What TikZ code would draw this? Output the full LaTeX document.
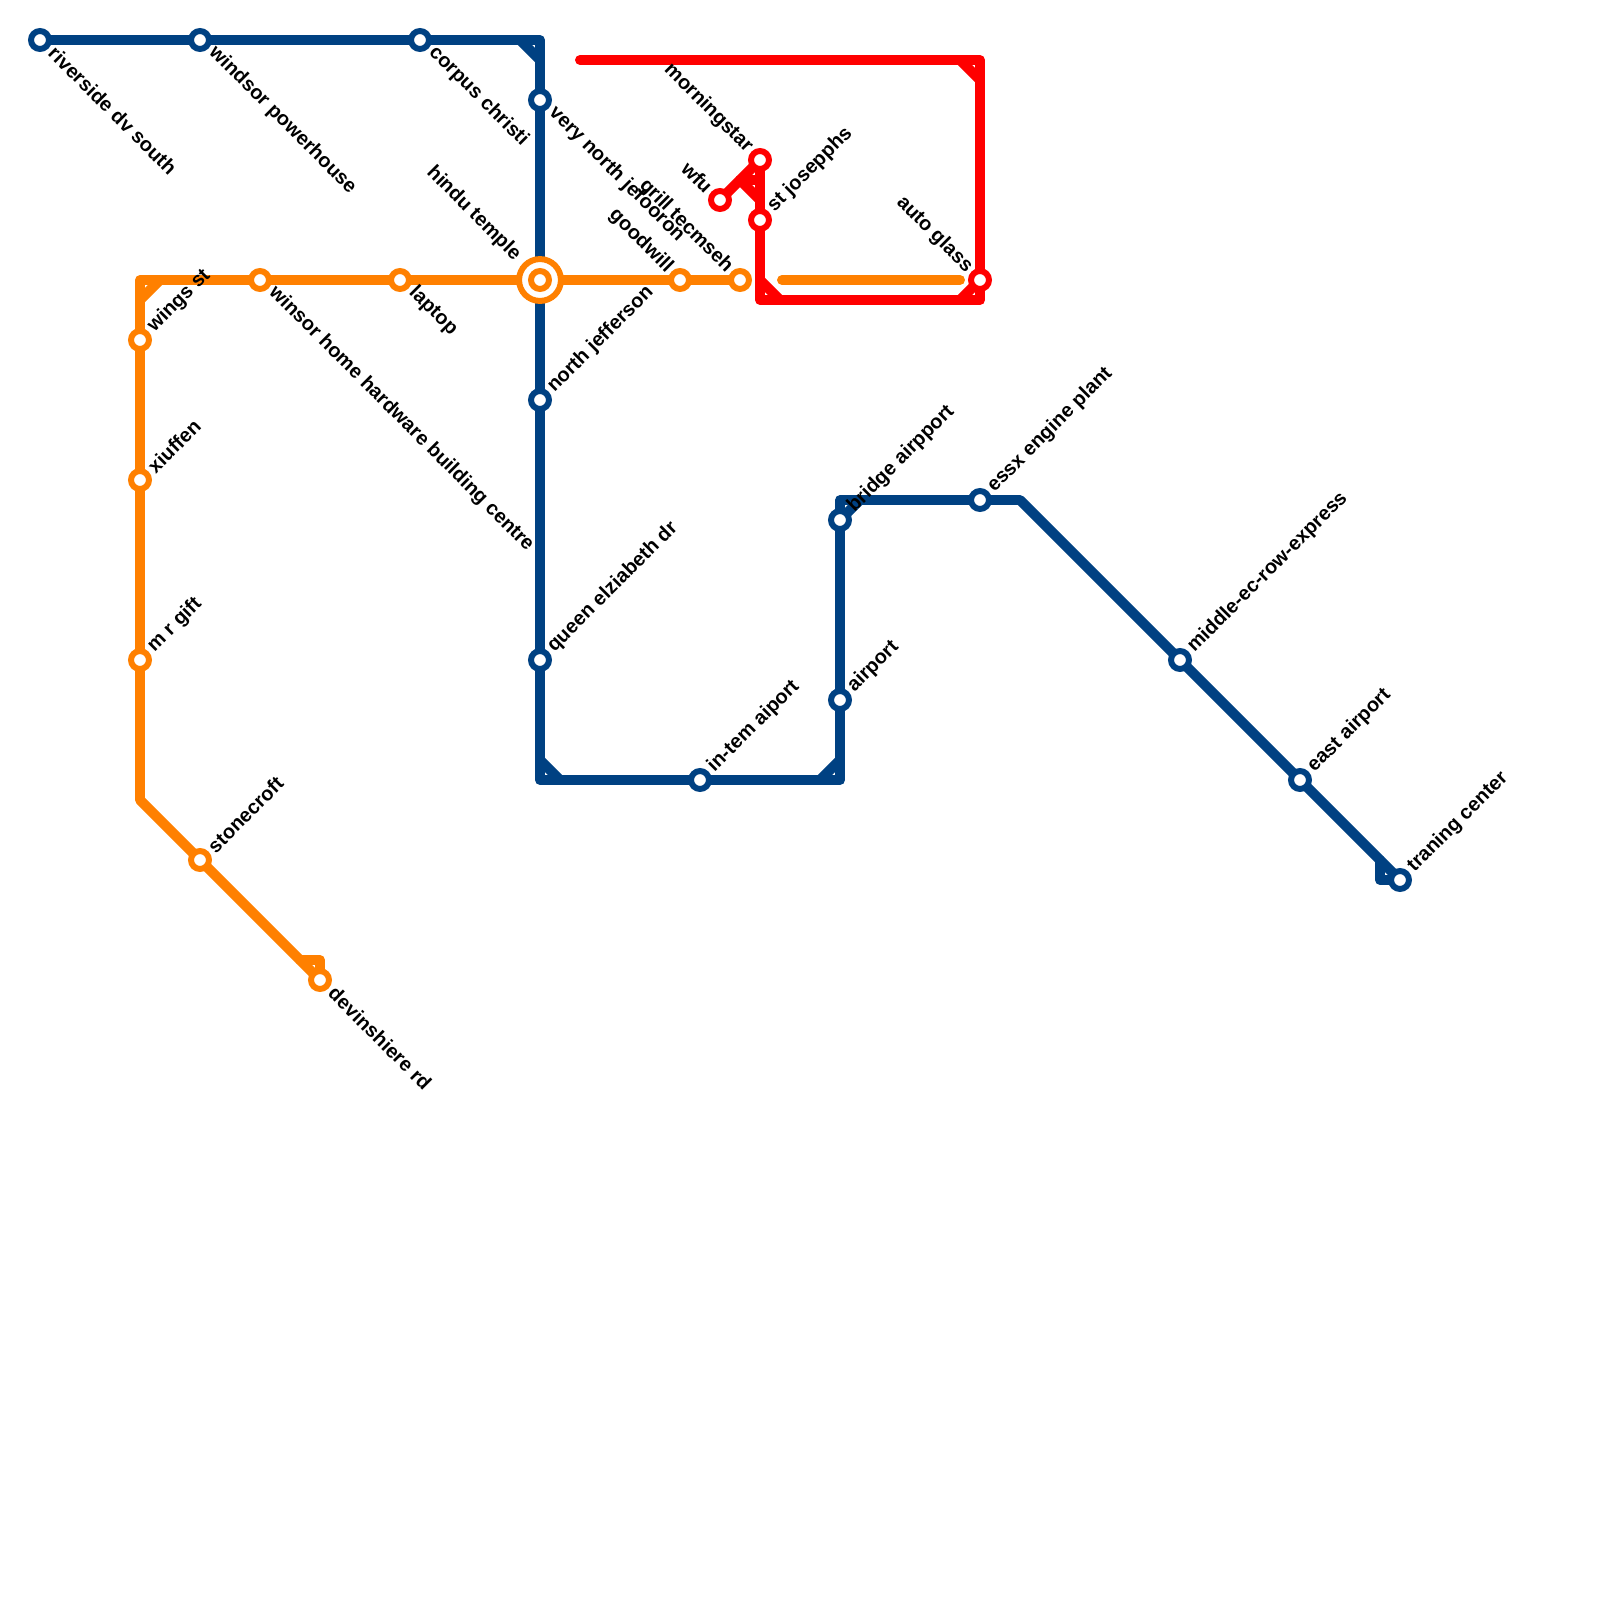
\documentclass[tikz,border=0pt]{standalone}
\usepackage{fontspec}
\setmainfont{Liberation Sans}
\usetikzlibrary{backgrounds}
\definecolor{lineblue}{RGB}{0,65,130}
\definecolor{lineorange}{RGB}{255,128,0}
\definecolor{linered}{RGB}{255,0,0}
\tikzset{
  track/.style={line width=7.09pt,line join=round,line cap=round},
  stop/.style={circle,draw=#1,fill=white,line width=4.26pt,minimum size=12.76pt,inner sep=0pt},
  labse/.style={font=\fontsize{14.17}{16}\selectfont\bfseries,text=black,inner sep=0pt,rotate=-45,anchor=west,xshift=0.38cm,yshift=0.04cm},
  labne/.style={font=\fontsize{14.17}{16}\selectfont\bfseries,text=black,inner sep=0pt,rotate=45,anchor=west,xshift=0.38cm},
  labnw/.style={font=\fontsize{14.17}{16}\selectfont\bfseries,text=black,inner sep=0pt,rotate=-45,anchor=east,xshift=-0.37cm}
}
\begin{document}
\begin{tikzpicture}[x=0.5cm,y=-0.5cm]
  \useasboundingbox (0,0) rectangle (80,80);
  \node[stop=lineorange,minimum size=29.8pt] (hindu-ring) at (27,14) {};
  % stations, grid of 20px
  \foreach \n/\x/\y/\c/\d/\lab in {
    riverside/2/2/lineblue/labse/riverside dv south,
    powerhouse/10/2/lineblue/labse/windsor powerhouse,
    corpus/21/2/lineblue/labse/corpus christi,
    verynorth/27/5/lineblue/labse/very north jefooron,
    northjeff/27/20/lineblue/labne/north jefferson,
    queen/27/33/lineblue/labne/queen elziabeth dr,
    intem/35/39/lineblue/labne/in-tem aiport,
    airport/42/35/lineblue/labne/airport,
    bridge/42/26/lineblue/labne/bridge airpport,
    essx/49/25/lineblue/labne/essx engine plant,
    middle/59/33/lineblue/labne/middle-ec-row-express,
    eastair/65/39/lineblue/labne/east airport,
    traning/70/44/lineblue/labne/traning center,
    wings/7/17/lineorange/labne/wings st,
    xiuffen/7/24/lineorange/labne/xiuffen,
    gift/7/33/lineorange/labne/m r gift,
    stonecroft/10/43/lineorange/labne/stonecroft,
    devin/16/49/lineorange/labse/devinshiere rd,
    hardware/13/14/lineorange/labse/winsor home hardware building centre,
    laptop/20/14/lineorange/labse/laptop,
    goodwill/34/14/lineorange/labnw/goodwill,
    grill/37/14/lineorange/labnw/grill tecmseh,
    morning/38/8/linered/labnw/morningstar,
    wfu/36/10/linered/labnw/wfu,
    josepphs/38/11/linered/labne/st josepphs,
    glass/49/14/linered/labnw/auto glass}
  {
    \node[stop=\c] (\n) at (\x,\y) {};
    \node[\d] (\n-lab) at (\x,\y) {\lab};
  }
  \node[stop=lineorange] (hindu) at (27,14) {};
  \node[labnw,xshift=-0.42cm] (hindu-lab) at (27,14) {hindu temple};
  % corners
  \foreach \n/\x/\y in {
    b1/26/2, b2/27/2, b3/27/3, b4/27/38, b5/27/39, b6/28/39, b7/41/39, b8/42/39, b9/42/38,
    b10/42/25, b11/43/25, b12/51/25, b13/69/43, b14/69/44,
    o1/7/15, o2/7/14, o3/8/14, o4/7/40, o5/15/48, o6/16/48,
    o7/39.1/14, o8/48/14,
    r1/29/3, r2/48/3, r3/49/3, r4/49/4, r5/49/15, r6/48/15, r7/39/15, r8/38/15, r9/38/14,
    r10/37/9, r11/38/9, r12/38/10}
    \coordinate (\n) at (\x,\y);
  \begin{pgfonlayer}{background}
    \draw[track,lineblue] (riverside.center) -- (b2) -- (b5) -- (b8) -- (b10) -- (b12) -- (traning.center);
    \draw[track,lineblue] (b13) -- (b14) -- (traning.center);
    \draw[track,lineblue] (b1) -- (b3);
    \draw[track,lineblue] (b4) -- (b6);
    \draw[track,lineblue] (b7) -- (b9);
    \draw[track,lineblue] (bridge.center) -- (b11);
    \draw[track,lineorange] (grill.center) -- (o2) -- (o4) -- (devin.center);
    \draw[track,lineorange] (o5) -- (o6) -- (devin.center);
    \draw[track,lineorange] (o1) -- (o3);
    \draw[track,lineorange] (o7) -- (o8);
    \draw[track,linered] (r1) -- (r3) -- (r5) -- (r8) -- (morning.center) -- (wfu.center);
    \draw[track,linered] (r2) -- (r4);
    \draw[track,linered] (glass.center) -- (r6);
    \draw[track,linered] (r9) -- (r7);
    \draw[track,linered] (r10) -- (r11);
    \draw[track,linered] (r10) -- (r12);
  \end{pgfonlayer}
\end{tikzpicture}
\end{document}
